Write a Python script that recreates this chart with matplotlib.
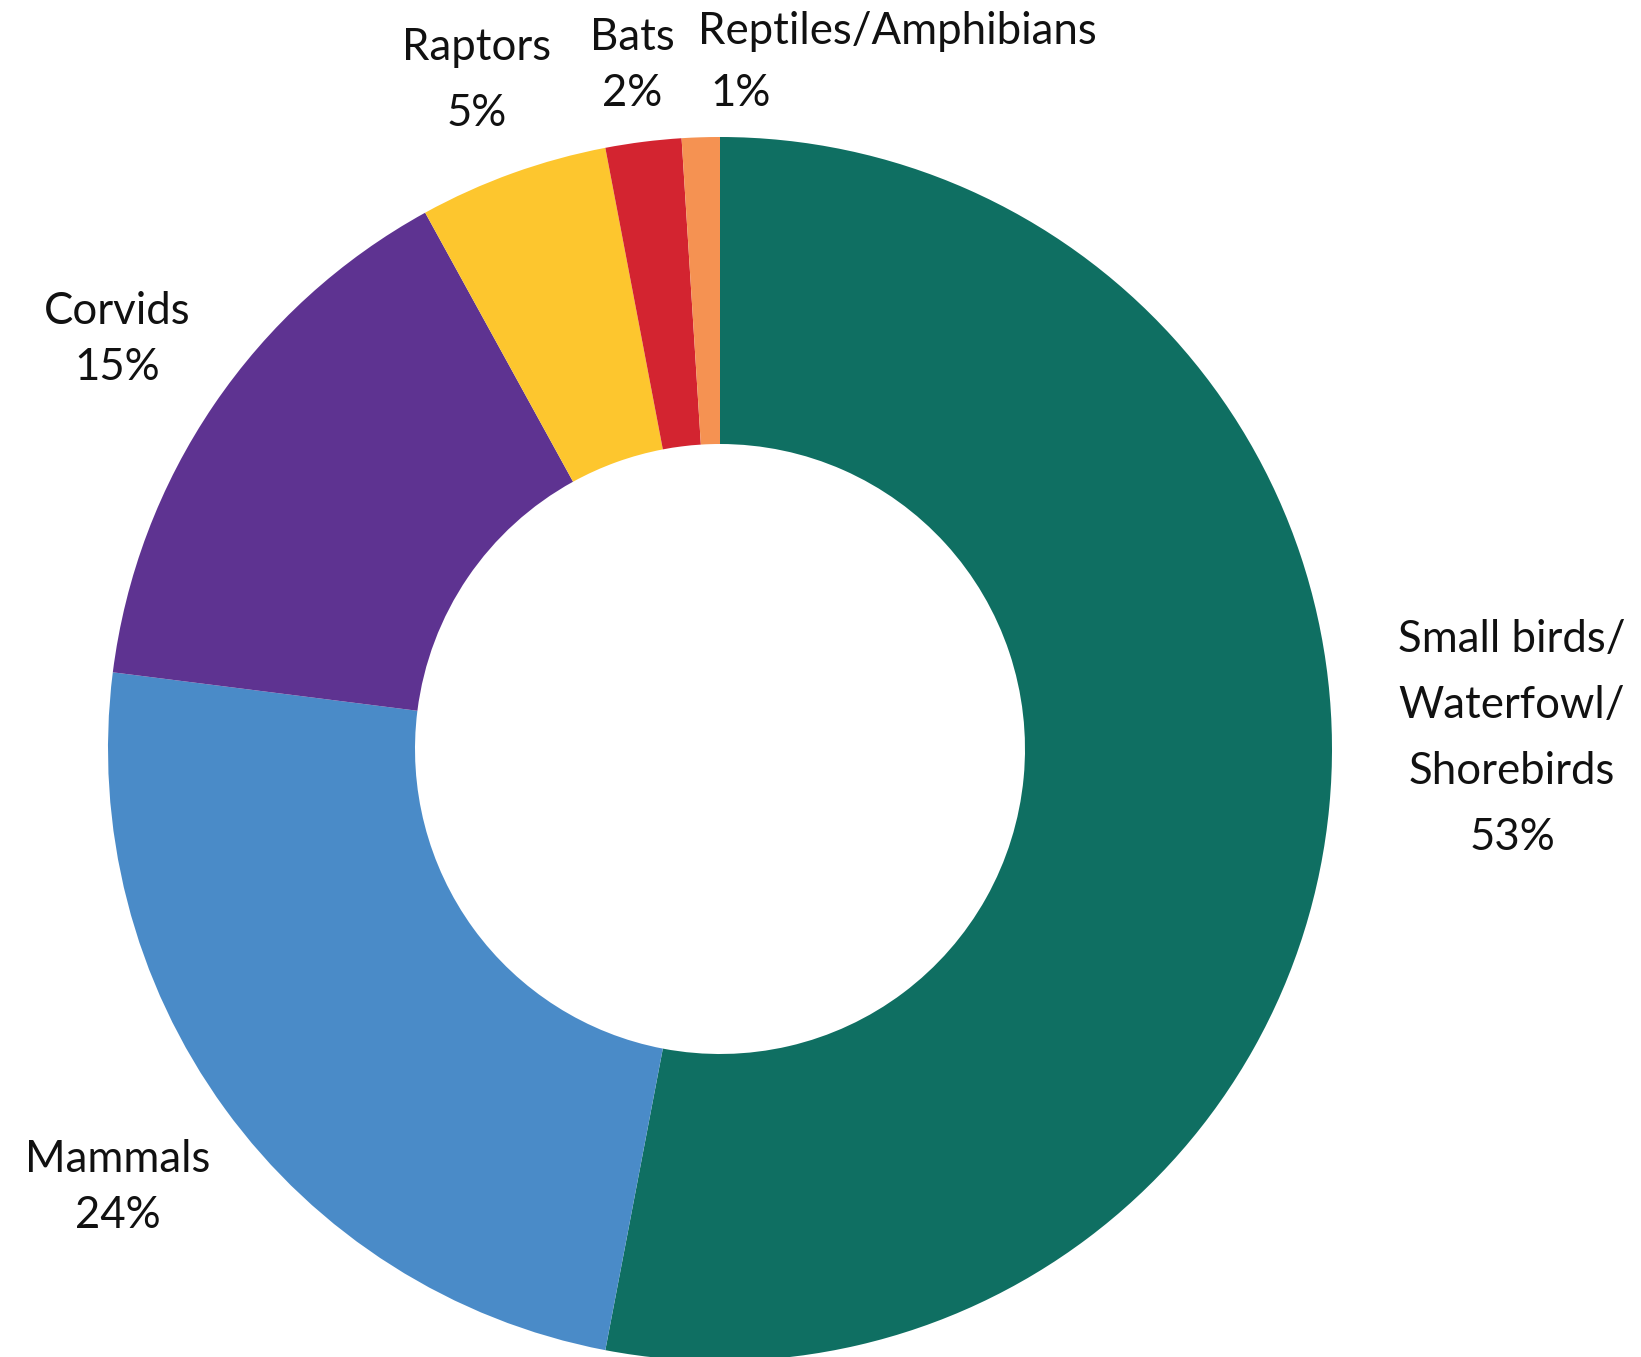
import matplotlib
matplotlib.use("Agg")
import matplotlib.pyplot as plt

plt.rcParams["font.family"] = ["Lato", "DejaVu Sans"]

categories = ["Small birds/\nWaterfowl/\nShorebirds", "Mammals", "Corvids",
              "Raptors", "Bats", "Reptiles/Amphibians"]
shares = [53, 24, 15, 5, 2, 1]
colors = ["#0F6F62", "#4A8BC8", "#5E3391", "#FDC62E", "#D32430", "#F59252"]

W, H = 1641, 1357
fig = plt.figure(figsize=(W / 100, H / 100), dpi=100)
ax = fig.add_axes([0, 0, 1, 1])

cx, cy = 720, H - 749
R_out, R_in = 612, 305
ax.pie(shares, colors=colors, startangle=90, counterclock=False,
       center=(cx, cy), radius=R_out,
       wedgeprops=dict(width=R_out - R_in, linewidth=0))
ax.set_xlim(0, W)
ax.set_ylim(0, H)
ax.set_aspect("equal")
ax.axis("off")

fs = 31.5

def put_lines(x, ys, lines):
    for y, s in zip(ys, lines):
        ax.text(x, H - y, s, ha="center", va="center", fontsize=fs,
                color="#111111")

# label blocks: x centre and the pixel row of each line
label_pos = [
    (1512, [640, 706, 772, 837]),
    (118, [1159, 1216]),
    (117, [312, 368]),
    (477, [47, 113]),
    (632, [37, 94]),
]
for (x, ys), name, pct in zip(label_pos, categories, shares):
    put_lines(x, ys, name.split("\n") + [f"{pct}%"])

# the thinnest slice has its name and share set apart
put_lines(897, [31], [categories[5]])
put_lines(741, [94], [f"{shares[5]}%"])

fig.savefig("out.png", dpi=100)
